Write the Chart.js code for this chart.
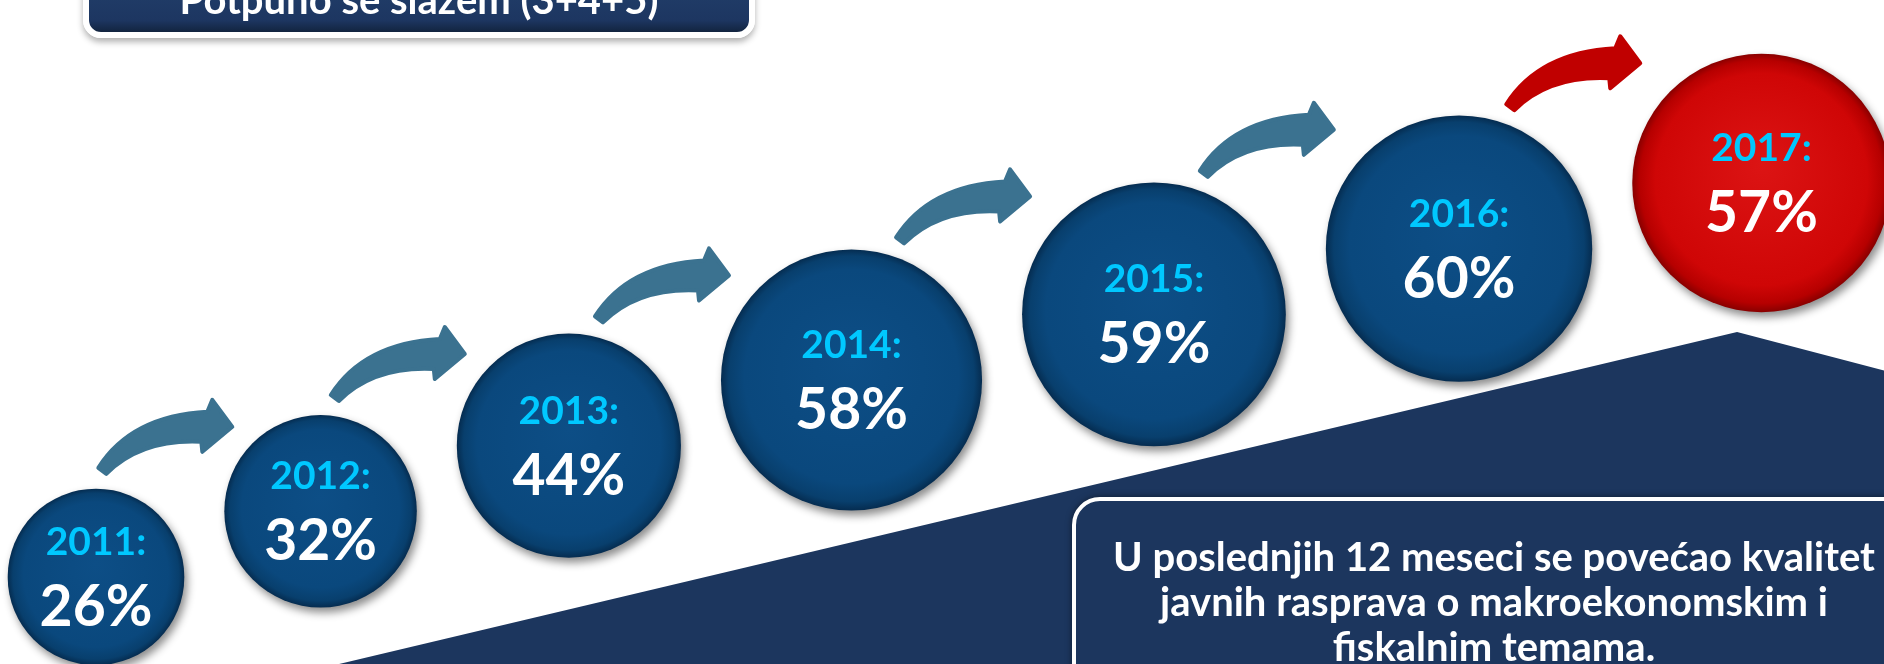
<!DOCTYPE html>
<html lang="sr">
<head>
    <meta charset="UTF-8">
    <title>Potpuno se slažem (3+4+5)</title>
    <script src="https://cdn.jsdelivr.net/npm/chart.js"></script>
    <style>
        body {
            margin: 0;
            background-color: #fff;
        }
        .wrap {
            position: relative;
            width: 1884px;
            height: 664px;
            overflow: hidden;
        }
        .badge {
            position: absolute;
            left: 83px;
            top: -32px;
            width: 660px;
            height: 58px;
            border: 6px solid #fff;
            border-radius: 18px;
            background: linear-gradient(#22406c, #1d3661 80%, #12243f);
            box-shadow: 0 4px 6px rgba(0, 0, 0, 0.3);
            color: #fff;
            font: bold 40px Lato, sans-serif;
            text-align: center;
        }
        .badge span {
            position: absolute;
            left: 0;
            right: 0;
            top: 5px;
            line-height: 40px;
        }
        .note {
            position: absolute;
            left: 1072px;
            top: 497px;
            width: 836px;
            height: 250px;
            border: 4px solid #fff;
            border-radius: 28px;
            background-color: #1c365e;
            box-shadow: 0 0 6px rgba(0, 0, 0, 0.5);
            color: #fff;
            font: bold 40px Lato, sans-serif;
            line-height: 45px;
            text-align: center;
            padding-top: 33px;
        }
    </style>
</head>
<body>
    <div class="wrap">
        <canvas id="stepsChart" width="1884" height="664"></canvas>
        <div class="badge"><span>Potpuno se slažem (3+4+5)</span></div>
        <div class="note">U poslednjih 12 meseci se povećao kvalitet<br>javnih rasprava o makroekonomskim i<br>fiskalnim temama.</div>
    </div>

    <script>
        const years = ['2011', '2012', '2013', '2014', '2015', '2016', '2017'];
        const shares = [26, 32, 44, 58, 59, 60, 57];

        // bubble size grows with the share, bubbles sit side by side
        const radius = v => 54 + 1.32 * v;
        const radii = shares.map(radius);
        const xs = [];
        radii.forEach((r, i) => xs.push(i === 0 ? 96 : xs[i - 1] + radii[i - 1] + r + 40));

        const last = years.length - 1;

        function drawArrow(ctx, x, y, color) {
            ctx.save();
            ctx.translate(x, y);
            ctx.fillStyle = color;
            ctx.strokeStyle = color;
            ctx.lineWidth = 4;
            ctx.lineJoin = 'round';
            ctx.beginPath();
            ctx.moveTo(-3, -3);
            ctx.quadraticCurveTo(30, -55, 106, -59);
            ctx.lineTo(111, -71);
            ctx.lineTo(131, -44);
            ctx.lineTo(101, -19);
            ctx.lineTo(100, -29);
            ctx.quadraticCurveTo(40, -32, 5, 3);
            ctx.closePath();
            ctx.fill();
            ctx.stroke();
            ctx.restore();
        }

        function bubbleFill(c) {
            const red = c.dataIndex === last;
            const flat = red ? '#cf0606' : '#0a487d';
            if (c.type !== 'data' || !c.raw) return flat;
            const chart = c.chart;
            if (!chart.scales.x || !chart.scales.y) return flat;
            const x = chart.scales.x.getPixelForValue(c.raw.x);
            const y = chart.scales.y.getPixelForValue(c.raw.y);
            const r = c.raw.r;
            if (![x, y, r].every(Number.isFinite)) return flat;
            const stops = red
                ? ['#dc1414', '#cf0606', '#b60000', '#880000']
                : ['#0d4e86', '#0a487d', '#083f6d', '#052c50'];
            const g = chart.ctx.createRadialGradient(x, y - r * 0.15, 0, x, y, r);
            g.addColorStop(0, stops[0]);
            g.addColorStop(0.82, stops[1]);
            g.addColorStop(0.94, stops[2]);
            g.addColorStop(1, stops[3]);
            return g;
        }

        const backdrop = {
            id: 'backdrop',
            beforeDatasetsDraw(chart) {
                const ctx = chart.ctx;
                const w = chart.width, h = chart.height;
                ctx.save();
                ctx.fillStyle = '#1c365e';
                ctx.beginPath();
                ctx.moveTo(w * 0.18, h);
                ctx.lineTo(w * 0.922, h * 0.5);
                ctx.lineTo(w, h * 0.558);
                ctx.lineTo(w, h);
                ctx.closePath();
                ctx.fill();
                ctx.restore();

                const pts = chart.getDatasetMeta(0).data;
                for (let i = 0; i < pts.length - 1; i++) {
                    const a = pts[i], b = pts[i + 1];
                    const ra = a.options.radius, rb = b.options.radius;
                    const tipX = b.x - rb + 10;
                    const sx = tipX - 133;
                    const dx = sx - a.x;
                    const edge = Math.abs(dx) < ra ? a.y - Math.sqrt(ra * ra - dx * dx) : a.y;
                    drawArrow(ctx, sx, edge - 18, i === last - 1 ? '#c00000' : '#3b7290');
                }
            },
            beforeDatasetDraw(chart) {
                const ctx = chart.ctx;
                ctx.save();
                ctx.shadowColor = 'rgba(0, 0, 0, 0.45)';
                ctx.shadowBlur = 9;
                ctx.shadowOffsetX = 3;
                ctx.shadowOffsetY = 5;
            },
            afterDatasetDraw(chart) {
                chart.ctx.restore();
            },
            afterDatasetsDraw(chart) {
                const ctx = chart.ctx;
                const pts = chart.getDatasetMeta(0).data;
                ctx.save();
                ctx.textAlign = 'center';
                ctx.textBaseline = 'alphabetic';
                pts.forEach((p, i) => {
                    ctx.fillStyle = '#00c8ff';
                    ctx.font = 'bold 39px Lato';
                    ctx.fillText(years[i] + ':', p.x, p.y - 22);
                    ctx.fillStyle = '#ffffff';
                    ctx.font = 'bold 57px Lato';
                    ctx.fillText(shares[i] + '%', p.x, p.y + 49);
                });
                ctx.restore();
            }
        };

        const ctx = document.getElementById('stepsChart').getContext('2d');
        const stepsChart = new Chart(ctx, {
            type: 'bubble',
            data: {
                datasets: [{
                    label: 'Potpuno se slažem',
                    data: years.map((y, i) => ({ x: xs[i], y: i, r: radii[i] })),
                    borderWidth: 0,
                    clip: false,
                    backgroundColor: bubbleFill
                }]
            },
            options: {
                responsive: false,
                animation: false,
                events: [],
                layout: { padding: 0, autoPadding: false },
                plugins: {
                    legend: { display: false },
                    tooltip: { enabled: false }
                },
                scales: {
                    x: { type: 'linear', display: false, min: 0, max: 1884 },
                    y: { type: 'linear', display: false, min: -1.325, max: 8.786 }
                }
            },
            plugins: [backdrop]
        });
    </script>
</body>
</html>
